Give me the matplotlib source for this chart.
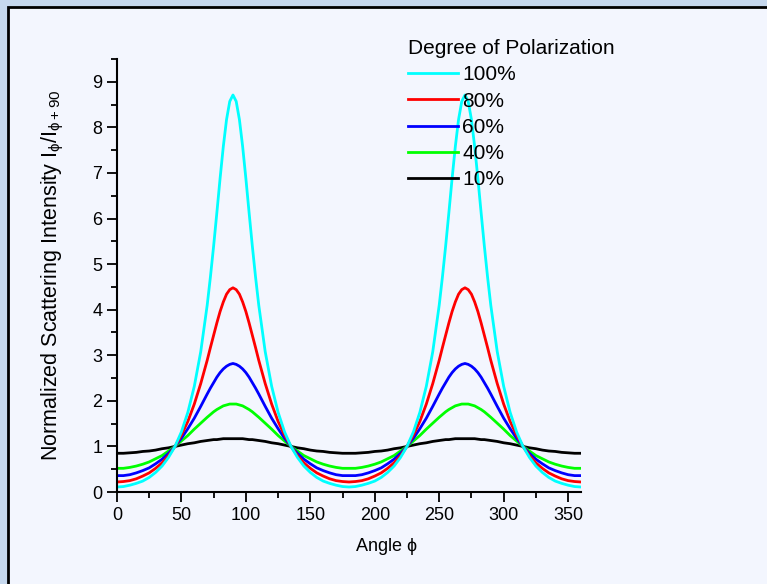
import matplotlib
matplotlib.use("Agg")
import matplotlib.pyplot as plt
from matplotlib.patches import Rectangle
from matplotlib.ticker import MultipleLocator

plt.rcParams["font.family"] = ["Liberation Sans", "DejaVu Sans"]
plt.rcParams["mathtext.fontset"] = "custom"
plt.rcParams["mathtext.rm"] = "Liberation Sans"
plt.rcParams["mathtext.it"] = "Liberation Sans"

# angle in degrees: 5 degree steps, 2.5 degree steps around the two peaks
angle = (list(range(0, 71, 5)) + [x / 2 for x in range(145, 216, 5)]
         + list(range(110, 251, 5)) + [x / 2 for x in range(505, 576, 5)]
         + list(range(290, 361, 5)))

# ratio I(phi)/I(phi+90), one list per polarization
p100 = [0.11, 0.12, 0.15, 0.19, 0.24, 0.32, 0.43, 0.57, 0.76, 1.00, 1.32, 1.75, 2.32, 3.08, 4.10,
        4.72, 5.40, 6.13, 6.88, 7.58, 8.17, 8.57, 8.71, 8.57, 8.17, 7.58, 6.88, 6.13, 5.40, 4.72,
        4.10, 3.08, 2.32, 1.75, 1.32, 1.00, 0.76, 0.57, 0.43, 0.32, 0.24, 0.19, 0.15, 0.12, 0.11,
        0.12, 0.15, 0.19, 0.24, 0.32, 0.43, 0.57, 0.76, 1.00, 1.32, 1.75, 2.32, 3.08, 4.10,
        4.72, 5.40, 6.13, 6.88, 7.58, 8.17, 8.57, 8.71, 8.57, 8.17, 7.58, 6.88, 6.13, 5.40, 4.72,
        4.10, 3.08, 2.32, 1.75, 1.32, 1.00, 0.76, 0.57, 0.43, 0.32, 0.24, 0.19, 0.15, 0.12, 0.11]
p80 = [0.22, 0.23, 0.25, 0.29, 0.35, 0.42, 0.52, 0.64, 0.80, 1.00, 1.25, 1.55, 1.93, 2.38, 2.89,
       3.17, 3.44, 3.71, 3.96, 4.17, 4.34, 4.44, 4.48, 4.44, 4.34, 4.17, 3.96, 3.71, 3.44, 3.17,
       2.89, 2.38, 1.93, 1.55, 1.25, 1.00, 0.80, 0.64, 0.52, 0.42, 0.35, 0.29, 0.25, 0.23, 0.22,
       0.23, 0.25, 0.29, 0.35, 0.42, 0.52, 0.64, 0.80, 1.00, 1.25, 1.55, 1.93, 2.38, 2.89,
       3.17, 3.44, 3.71, 3.96, 4.17, 4.34, 4.44, 4.48, 4.44, 4.34, 4.17, 3.96, 3.71, 3.44, 3.17,
       2.89, 2.38, 1.93, 1.55, 1.25, 1.00, 0.80, 0.64, 0.52, 0.42, 0.35, 0.29, 0.25, 0.23, 0.22]
p60 = [0.36, 0.36, 0.38, 0.42, 0.47, 0.53, 0.62, 0.72, 0.85, 1.00, 1.18, 1.39, 1.62, 1.88, 2.15,
       2.28, 2.40, 2.52, 2.62, 2.70, 2.76, 2.80, 2.82, 2.80, 2.76, 2.70, 2.62, 2.52, 2.40, 2.28,
       2.15, 1.88, 1.62, 1.39, 1.18, 1.00, 0.85, 0.72, 0.62, 0.53, 0.47, 0.42, 0.38, 0.36, 0.36,
       0.36, 0.38, 0.42, 0.47, 0.53, 0.62, 0.72, 0.85, 1.00, 1.18, 1.39, 1.62, 1.88, 2.15,
       2.28, 2.40, 2.52, 2.62, 2.70, 2.76, 2.80, 2.82, 2.80, 2.76, 2.70, 2.62, 2.52, 2.40, 2.28,
       2.15, 1.88, 1.62, 1.39, 1.18, 1.00, 0.85, 0.72, 0.62, 0.53, 0.47, 0.42, 0.38, 0.36, 0.36]
p40 = [0.52, 0.52, 0.54, 0.57, 0.61, 0.66, 0.73, 0.80, 0.90, 1.00, 1.12, 1.24, 1.38, 1.51, 1.64,
       1.70, 1.76, 1.81, 1.85, 1.89, 1.91, 1.93, 1.93, 1.93, 1.91, 1.89, 1.85, 1.81, 1.76, 1.70,
       1.64, 1.51, 1.38, 1.24, 1.12, 1.00, 0.90, 0.80, 0.73, 0.66, 0.61, 0.57, 0.54, 0.52, 0.52,
       0.52, 0.54, 0.57, 0.61, 0.66, 0.73, 0.80, 0.90, 1.00, 1.12, 1.24, 1.38, 1.51, 1.64,
       1.70, 1.76, 1.81, 1.85, 1.89, 1.91, 1.93, 1.93, 1.93, 1.91, 1.89, 1.85, 1.81, 1.76, 1.70,
       1.64, 1.51, 1.38, 1.24, 1.12, 1.00, 0.90, 0.80, 0.73, 0.66, 0.61, 0.57, 0.54, 0.52, 0.52]
p10 = [0.85, 0.85, 0.86, 0.87, 0.89, 0.90, 0.92, 0.95, 0.97, 1.00, 1.03, 1.06, 1.08, 1.11, 1.13,
       1.14, 1.15, 1.15, 1.16, 1.17, 1.17, 1.17, 1.17, 1.17, 1.17, 1.17, 1.16, 1.15, 1.15, 1.14,
       1.13, 1.11, 1.08, 1.06, 1.03, 1.00, 0.97, 0.95, 0.92, 0.90, 0.89, 0.87, 0.86, 0.85, 0.85,
       0.85, 0.86, 0.87, 0.89, 0.90, 0.92, 0.95, 0.97, 1.00, 1.03, 1.06, 1.08, 1.11, 1.13,
       1.14, 1.15, 1.15, 1.16, 1.17, 1.17, 1.17, 1.17, 1.17, 1.17, 1.17, 1.16, 1.15, 1.15, 1.14,
       1.13, 1.11, 1.08, 1.06, 1.03, 1.00, 0.97, 0.95, 0.92, 0.90, 0.89, 0.87, 0.86, 0.85, 0.85]

labels = ["100%", "80%", "60%", "40%", "10%"]
series = [p100, p80, p60, p40, p10]
colors = ["#00FFFF", "#FF0000", "#0000FF", "#00FF00", "#000000"]

fig = plt.figure(figsize=(7.67, 5.84), dpi=100, facecolor="#C6D8EE")
panel = Rectangle((0.0102, -0.05), 1.2, 1.0385, transform=fig.transFigure,
                  facecolor="#F3F6FE", edgecolor="black", lw=2, zorder=-5)
fig.add_artist(panel)

ax = fig.add_axes([0.1525, 0.1575, 0.605, 0.7415])
ax.set_zorder(2)
ax.set_facecolor("none")

handles = []
for i in range(len(series) - 1, -1, -1):
    line, = ax.plot(angle, series[i], color=colors[i], lw=2.0, label=labels[i],
                    solid_joinstyle="round")
    handles.insert(0, line)

ax.set_xlim(0, 360)
ax.set_ylim(0, 9.5)
ax.xaxis.set_major_locator(MultipleLocator(50))
ax.xaxis.set_minor_locator(MultipleLocator(25))
ax.yaxis.set_major_locator(MultipleLocator(1))
ax.yaxis.set_minor_locator(MultipleLocator(0.5))
ax.set_xticks(range(0, 351, 50))

for s in ["top", "right"]:
    ax.spines[s].set_visible(False)
for s in ["left", "bottom"]:
    ax.spines[s].set_linewidth(1.5)

ax.tick_params(which="major", direction="out", length=7, width=1.3, labelsize=13)
ax.tick_params(which="minor", direction="out", length=4, width=1.3)

ax.set_xlabel(r"Angle $\phi$", fontsize=13, labelpad=9)
ax.xaxis.label.set_x(0.58)
ax.set_ylabel(r"Normalized Scattering Intensity I$_{\phi}$/I$_{\phi+90}$", fontsize=15.5, labelpad=19)

leg = ax.legend(handles, labels, title="Degree of Polarization", loc="upper left",
                bbox_to_anchor=(408 / 767, 1 - 39 / 584), bbox_transform=fig.transFigure,
                frameon=False, fontsize=15, title_fontsize=15, handlelength=2.4,
                handletextpad=0.2, labelspacing=0.35, borderpad=0, borderaxespad=0)
leg._legend_box.align = "left"

fig.savefig("out.png", dpi=100)
